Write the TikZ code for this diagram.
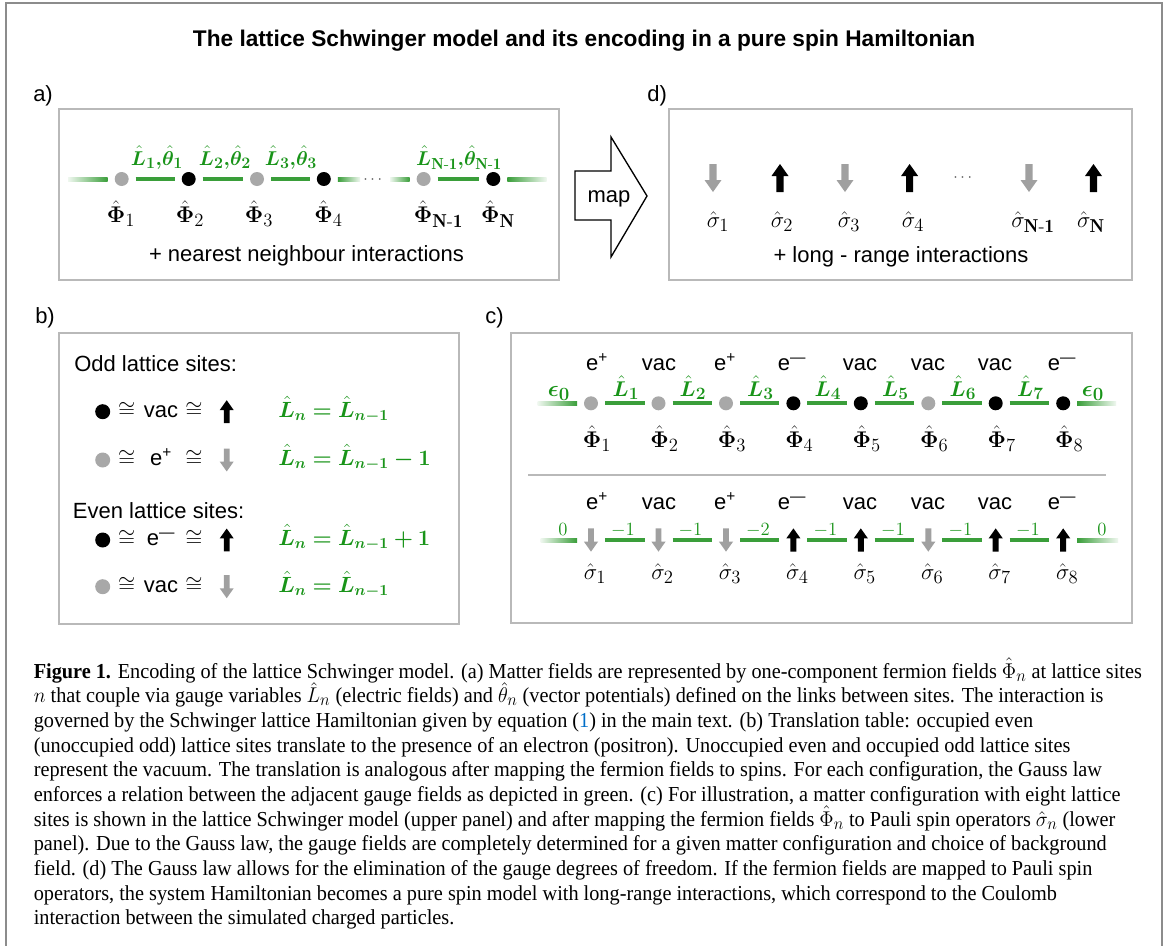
\RequirePackage{fix-cm}
\documentclass[tikz,border=0pt]{standalone}
\usepackage{amsmath}
\usepackage{bm}
\usepackage{graphicx}
\usepackage{fontspec}
\newfontfamily\arial{Liberation Sans}
\newfontfamily\capfont{Liberation Serif}
\usetikzlibrary{calc}
\DeclareMathSizes{17}{17}{14}{11}
\DeclareMathSizes{15}{15}{12}{9}
\DeclareMathSizes{16}{16}{13}{10}
\definecolor{segg}{RGB}{58,158,58}
\definecolor{txtg}{RGB}{25,148,25}
\definecolor{dotgray}{RGB}{168,168,168}
\definecolor{arrgray}{RGB}{160,160,160}
\definecolor{boxgray}{RGB}{185,185,185}
\definecolor{framegray}{RGB}{140,140,140}
\definecolor{linkblue}{RGB}{0,110,200}
\tikzset{
  pics/uparr/.style={code={\fill[#1] (0,-14) -- (8.5,-2) -- (3.6,-2) -- (3.6,14) -- (-3.6,14) -- (-3.6,-2) -- (-8.5,-2) -- cycle;}},
  pics/downarr/.style={code={\fill[#1] (0,14) -- (8.5,2) -- (3.6,2) -- (3.6,-14) -- (-3.6,-14) -- (-3.6,2) -- (-8.5,2) -- cycle;}},
}
\begin{document}
\begin{tikzpicture}[x=0.75pt,y=-0.75pt,
  sans/.style={font=\arial\fontsize{16.5}{19}\selectfont, inner sep=0pt},
  site/.style={circle, minimum size=10.5pt, inner sep=0pt, outer sep=5.25pt},
  blackdot/.style={site, fill=black},
  graydot/.style={site, fill=dotgray},
  spinsite/.style={site},
  seg/.style={draw=segg, line width=3pt},
  fadein/.style={left color=segg!8, right color=segg},
  fadeout/.style={left color=segg, right color=segg!8},
  glab/.style={text=txtg, font=\fontsize{15}{18}\selectfont, inner sep=0pt, anchor=base},
  plab/.style={font=\fontsize{17}{20}\selectfont, inner sep=0pt, anchor=base},
  slab/.style={font=\fontsize{17}{20}\selectfont, inner sep=0pt, anchor=base},
  num/.style={text=txtg, font=\fontsize{14}{16}\selectfont, inner sep=0pt, anchor=base},
  eqn/.style={text=txtg, font=\fontsize{16.5}{19}\selectfont, inner sep=0pt, anchor=base west},
  panel/.style={draw=boxgray, line width=1.1pt},
]
\useasboundingbox (0,0) rectangle (1168,946);
\fill[white] (0,0) rectangle (1168,946);
\draw[framegray, line width=1.5pt] (6,960) -- (6,3) -- (1162,3) -- (1162,960);

% title
\node[font=\arial\bfseries\fontsize{17}{20}\selectfont, inner sep=0pt, anchor=base] (title) at (584,46.5)
  {The lattice Schwinger model and its encoding in a pure spin Hamiltonian};

% panel labels
\node[sans, anchor=base west] (la) at (33,101) {a)};
\node[sans, anchor=base west] (ld) at (647,101) {d)};
\node[sans, anchor=base west] (lb) at (35,323) {b)};
\node[sans, anchor=base west] (lc) at (485,323) {c)};

% panel boxes
\draw[panel] (59,109) rectangle (559,280);
\draw[panel] (669,109) rectangle (1132,280);
\draw[panel] (59,333) rectangle (459,624);
\draw[panel] (511,333) rectangle (1132,623);

% ---------------- panel a ----------------
\foreach \n/\x/\s in {1/121.7/graydot,2/188.7/blackdot,3/257/graydot,4/323.8/blackdot,5/423.6/graydot,6/493.3/blackdot}
  \node[\s] (a\n) at (\x,179) {};
\draw[seg] (a1) -- (a2);
\draw[seg] (a2) -- (a3);
\draw[seg] (a3) -- (a4);
\draw[seg] (a5) -- (a6);
\coordinate (aL) at (68,179);
\coordinate (aM1) at (360,179);
\coordinate (aM2) at (390,179);
\coordinate (aR) at (546.5,179);
\shade[fadein] ($(aL)+(0,-2)$) rectangle ($(a1.west)+(0,2)$);
\shade[fadeout] ($(a4.east)+(0,-2)$) rectangle ($(aM1)+(0,2)$);
\shade[fadein] ($(aM2)+(0,-2)$) rectangle ($(a5.west)+(0,2)$);
\shade[fadeout] ($(a6.east)+(0,-2)$) rectangle ($(aR)+(0,2)$);
\node[inner sep=0pt, text=black!70, font=\fontsize{12}{14}\selectfont, anchor=base] (adots) at (374,183) {$\cdots$};

\node[glab] (aL1) at (157,165) {$\bm{\hat L_1{,}\hat\theta_1}$};
\node[glab] (aL2) at (225,165) {$\bm{\hat L_2{,}\hat\theta_2}$};
\node[glab] (aL3) at (291,165) {$\bm{\hat L_3{,}\hat\theta_3}$};
\node[glab] (aLN) at (459,165) {$\bm{\hat L}_{\mathbf{N\text{-}1}}\bm{{,}\hat\theta}_{\mathbf{N\text{-}1}}$};

\node[plab] (aP1) at (121,222) {$\hat{\bm\Phi}_1$};
\node[plab] (aP2) at (190,222) {$\hat{\bm\Phi}_2$};
\node[plab] (aP3) at (259,222) {$\hat{\bm\Phi}_3$};
\node[plab] (aP4) at (328.5,222) {$\hat{\bm\Phi}_4$};
\node[plab] (aP5) at (438.5,222) {$\hat{\bm\Phi}_{\mathbf{N\text{-}1}}$};
\node[plab] (aP6) at (498,222) {$\hat{\bm\Phi}_{\mathbf{N}}$};
\node[sans, anchor=base] (atext) at (306.5,261.5) {+ nearest neighbour interactions};

% map arrow
\draw[line width=1pt, line join=miter] (575,171) -- (611,171) -- (611,137) -- (647,196) -- (611,257) -- (611,220) -- (575,220) -- cycle;
\node[sans, anchor=base] (maplbl) at (609,202.5) {map};

% ---------------- panel d ----------------
\foreach \n/\x in {1/713,2/780,3/845,4/909.6,5/1029,6/1093.5}
  \coordinate (d\n) at (\x,178);
\pic at (d1) {downarr=arrgray};
\pic at (d2) {uparr=black};
\pic at (d3) {downarr=arrgray};
\pic at (d4) {uparr=black};
\pic at (d5) {downarr=arrgray};
\pic at (d6) {uparr=black};
\node[inner sep=0pt, text=black!70, font=\fontsize{12}{14}\selectfont, anchor=base] (ddots) at (964,181) {$\cdots$};
\node[slab] (dS1) at (718,227) {$\hat\sigma_1$};
\node[slab] (dS2) at (782,227) {$\hat\sigma_2$};
\node[slab] (dS3) at (849,227) {$\hat\sigma_3$};
\node[slab] (dS4) at (913,227) {$\hat\sigma_4$};
\node[slab] (dS5) at (1033,227) {$\hat\sigma_{\mathbf{N\text{-}1}}$};
\node[slab] (dS6) at (1091,227) {$\hat\sigma_{\mathbf{N}}$};
\node[sans, anchor=base] (dtext) at (901,262) {+ long - range interactions};

% ---------------- panel b ----------------
\node[sans, anchor=base west] (odd) at (74,371.5) {Odd lattice sites:};
\node[sans, anchor=base west] (even) at (72.7,518) {Even lattice sites:};
\foreach \r/\y/\d/\t/\a/\ac/\e in {
  1/411.7/black/vac/uparr/black/{\hat L_n=\hat L_{n-1}},
  2/460/dotgray/e\textsuperscript{+}/downarr/arrgray/{\hat L_n=\hat L_{n-1}-1},
  3/540/black/e\textsuperscript{—}/uparr/black/{\hat L_n=\hat L_{n-1}+1},
  4/586.7/dotgray/vac/downarr/arrgray/{\hat L_n=\hat L_{n-1}}}{
  \node[circle, fill=\d, minimum size=11.25pt, inner sep=0pt] (bd\r) at (102.7,\y) {};
  \node[sans, anchor=base] (bc\r) at (126.7,\y+5.5) {$\cong$};
  \node[sans, anchor=base] (bt\r) at (161,\y+5.8) {\t};
  \node[sans, anchor=base] (be\r) at (194,\y+5.5) {$\cong$};
  \coordinate (ba\r) at (226.7,\y);
  \pic[scale=0.82] at (ba\r) {\a=\ac};
  \node[eqn] (bq\r) at (278,\y+5.5) {$\bm{\e}$};
}

% ---------------- panel c ----------------
\foreach \n/\x/\s in {1/591/graydot,2/658.5/graydot,3/726/graydot,4/793.4/blackdot,5/860.8/blackdot,6/928.3/graydot,7/995.7/blackdot,8/1063.2/blackdot}{
  \node[\s] (c\n) at (\x,403.3) {};
  \node[spinsite] (s\n) at (\x,540) {};
}
\foreach \i/\j in {1/2,2/3,3/4,4/5,5/6,6/7,7/8}{
  \draw[seg] (c\i) -- (c\j);
  \draw[seg] (s\i) -- (s\j);
}
\coordinate (cL) at (537.5,403.3);
\coordinate (cR) at (1116,403.3);
\coordinate (sL) at (540.5,540);
\coordinate (sR) at (1118,540);
\shade[fadein] ($(cL)+(0,-2)$) rectangle ($(c1.west)+(0,2)$);
\shade[fadeout] ($(c8.east)+(0,-2)$) rectangle ($(cR)+(0,2)$);
\shade[fadein] ($(sL)+(0,-2)$) rectangle ($(s1.west)+(0,2)$);
\shade[fadeout] ($(s8.east)+(0,-2)$) rectangle ($(sR)+(0,2)$);
\foreach \n/\d in {1/downarr,2/downarr,3/downarr,4/uparr,5/uparr,6/downarr,7/uparr,8/uparr}{
  \ifnum\pdfstrcmp{\d}{uparr}=0
    \pic[scale=0.83] at (s\n) {uparr=black};
  \else
    \pic[scale=0.83] at (s\n) {downarr=arrgray};
  \fi
}
% particle labels
\foreach \n/\x/\t in {1/597/e\textsuperscript{+},2/659/vac,3/725/e\textsuperscript{+},4/792/e\textsuperscript{—},5/860/vac,6/928/vac,7/995/vac,8/1062/e\textsuperscript{—}}{
  \node[sans, anchor=base] (ct\n) at (\x,370.7) {\t};
  \node[sans, anchor=base] (st\n) at (\x,509) {\t};
}
% gauge labels top
\node[glab, font=\fontsize{17}{20}\selectfont] (ce0) at (559,396) {$\bm{\epsilon_0}$};
\node[glab, font=\fontsize{17}{20}\selectfont] (ce9) at (1093,396) {$\bm{\epsilon_0}$};
\foreach \i/\x in {1/626,2/693,3/760.5,4/828,5/895.5,6/963,7/1030.5}
  \node[glab, font=\fontsize{16}{18}\selectfont] (cg\i) at (\x,396) {$\bm{\hat L_{\i}}$};
\foreach \n/\x in {1/597,2/664.5,3/732,4/799.4,5/866.8,6/934.3,7/1001.7,8/1069.2}
  \node[plab] (cP\n) at (\x,447) {$\hat{\bm\Phi}_{\n}$};
% divider
\draw[draw=boxgray, line width=1.1pt] (528,475) -- (1105.5,475);
% gauge values bottom
\node[num] (sg0) at (563,535) {$0$};
\node[num] (sg9) at (1102,535) {$0$};
\foreach \i/\x/\v in {1/623/-1,2/690.5/-1,3/758/-2,4/825.5/-1,5/893/-1,6/960.5/-1,7/1028/-1}
  \node[num] (sg\i) at (\x,535) {$\v$};
\foreach \n/\x in {1/595,2/662.5,3/730,4/797.4,5/864.8,6/932.3,7/999.7,8/1067.2}
  \node[slab] (sS\n) at (\x,579) {$\hat\sigma_{\n}$};

% ---------------- caption ----------------
\node[anchor=base west, inner sep=0pt, font=\capfont\fontsize{16}{18.5}\selectfont] (cap) at (33.5,678) {\scalebox{0.95}[1]{\begin{tabular}[t]{@{}l@{}}
\textbf{Figure 1.} Encoding of the lattice Schwinger model. (a) Matter fields are represented by one-component fermion fields $\smash{\hat{\Phi}_n}$ at lattice sites\\
$n$ that couple via gauge variables $\smash{\hat{L}_n}$ (electric fields) and $\smash{\hat{\theta}_n}$ (vector potentials) defined on the links between sites. The interaction is\\
governed by the Schwinger lattice Hamiltonian given by equation (\textcolor{linkblue}{1}) in the main text. (b) Translation table: occupied even\\
(unoccupied odd) lattice sites translate to the presence of an electron (positron). Unoccupied even and occupied odd lattice sites\\
represent the vacuum. The translation is analogous after mapping the fermion fields to spins. For each configuration, the Gauss law\\
enforces a relation between the adjacent gauge fields as depicted in green. (c) For illustration, a matter configuration with eight lattice\\
sites is shown in the lattice Schwinger model (upper panel) and after mapping the fermion fields $\smash{\hat{\Phi}_n}$ to Pauli spin operators $\smash{\hat{\sigma}_n}$ (lower\\
panel). Due to the Gauss law, the gauge fields are completely determined for a given matter configuration and choice of background\\
field. (d) The Gauss law allows for the elimination of the gauge degrees of freedom. If the fermion fields are mapped to Pauli spin\\
operators, the system Hamiltonian becomes a pure spin model with long-range interactions, which correspond to the Coulomb\\
interaction between the simulated charged particles.
\end{tabular}}};
\end{tikzpicture}
\end{document}
